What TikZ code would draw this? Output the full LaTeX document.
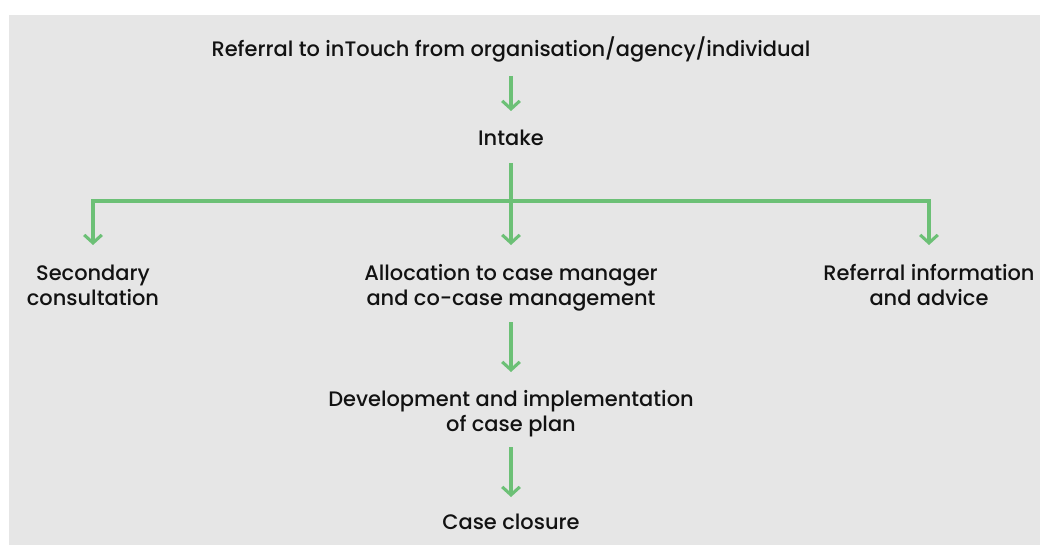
\documentclass[tikz,border=0pt]{standalone}
\usepackage{fontspec}
\setmainfont{Poppins}[UprightFont={* Medium}]
\usetikzlibrary{arrows.meta, positioning, calc}
\definecolor{cGreen}{RGB}{108,192,118}
\definecolor{cPanel}{RGB}{230,230,230}
\definecolor{cInk}{RGB}{18,18,18}
\tikzset{
	txt/.style ={anchor=base, inner sep=0pt, align=center, text=cInk},
	link/.style={line width=2.2pt, draw=cGreen},
	flow/.style={link, -{Straight Barb[length=2mm, width=4.4mm]}},
}
\begin{document}
\begin{tikzpicture}[x=0.025cm, y=-0.025cm, font=\fontsize{14.9}{17.7}\selectfont]
	\useasboundingbox (0,0) rectangle (1041,545);
	\fill[cPanel] (9,15) rectangle (1040,545);
	% steps (base = last line)
	\node[txt] (ref) at (511,57) {Referral to inTouch from organisation/agency/individual};
	\node[txt] (intake) at (511,146) {Intake};
	\node[txt] (secondary) at (93,305) {Secondary\\consultation};
	\node[txt] (allocation) at (511,305) {Allocation to case manager\\and co-case management};
	\node[txt] (advice) at (929,305) {Referral information\\and advice};
	\node[txt] (plan) at (511,431) {Development and implementation\\of case plan};
	\node[txt] (closure) at (511,529) {Case closure};
	% connectors
	\coordinate (split) at ($(intake.base)+(0,55)$);
	\draw[flow] ($(ref.base)+(0,19)$) -- ($(intake.base)+(0,-35)$);
	\draw[link] ($(intake.base)+(0,17)$) -- (split);
	\draw[flow] (split) -- ($(allocation.base)+(0,-60)$);
	\draw[flow] (split) -| ($(secondary.base)+(0,-60)$);
	\draw[flow] (split) -| ($(advice.base)+(0,-60)$);
	\draw[flow] ($(allocation.base)+(0,17)$) -- ($(plan.base)+(0,-59)$);
	\draw[flow] ($(plan.base)+(0,16)$) -- ($(closure.base)+(0,-32)$);
\end{tikzpicture}
\end{document}
